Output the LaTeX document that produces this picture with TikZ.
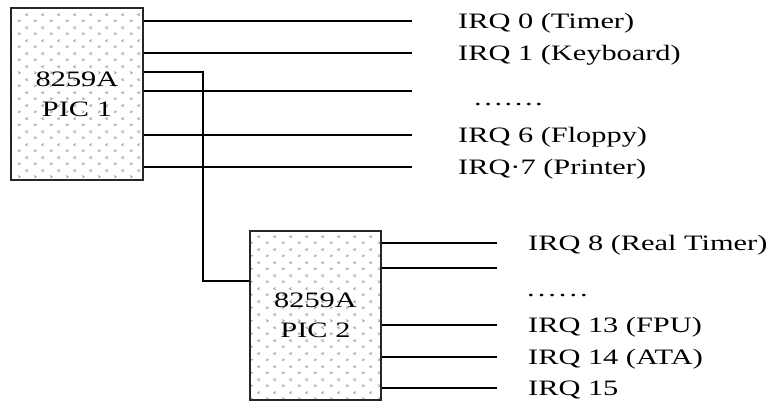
\documentclass[tikz,border=0pt]{standalone}
\usepackage{fontspec}
\setmainfont{Liberation Serif}[FakeStretch=1.38]
\usepackage{tikz}
\usetikzlibrary{positioning, patterns.meta}

\tikzdeclarepattern{
  name=chevrons,
  type=uncolored,
  bottom left={(0pt,0pt)},
  top right={(15.5pt,13pt)},
  tile size={(15.5pt,13pt)},
  code={
    \draw[line width=0.7pt] (2pt,2.2pt) -- (4.5pt,3.5pt) -- (2pt,4.8pt);
    \draw[line width=0.7pt] (12.3pt,8.7pt) -- (9.8pt,10pt) -- (12.3pt,11.3pt);
  }
}

\begin{document}
\begin{tikzpicture}[
    x=1pt, y=-1pt,
    font=\fontsize{22}{30}\selectfont,
    pic/.style={rectangle, draw=black!85, line width=1.6pt, pattern=chevrons, pattern color=gray!75, inner sep=0pt, align=center},
    wire/.style={line width=1.3pt, black},
    irq/.style={inner sep=0pt, text height=14.6pt, text depth=0pt},
    dotrow/.style={inner sep=0pt, anchor=base west}
]
\useasboundingbox (0,0) rectangle (783,401);

% Nodes
\node[pic, minimum width=132pt, minimum height=172pt] (pic1) at (77,94) {8259A\\PIC 1};
\node[pic, minimum width=131pt, minimum height=169pt] (pic2) at (315.5,315.5) {8259A\\PIC 2};

\foreach \y [count=\i] in {21,53,91,135,167}
  \coordinate (a\i) at (412,\y);
\foreach \y [count=\i] in {243,268,325,357,388}
  \coordinate (b\i) at (497,\y);
\coordinate (cas1) at (203,72);
\coordinate (cas2) at (203,281);

\node[irq, right=46pt of a1] (irq0) {IRQ 0 (Timer)};
\node[irq, right=46pt of a2] (irq1) {IRQ 1 (Keyboard)};
\node[dotrow] (gap1) at (474,106) {.\kern2.58pt.\kern2.58pt.\kern2.58pt.\kern2.58pt.\kern2.58pt.\kern2.58pt.};
\node[irq, right=46pt of a4] (irq6) {IRQ 6 (Floppy)};
\node[irq, right=46pt of a5] (irq7) {IRQ·7 (Printer)};

\node[irq, right=31pt of b1] (irq8) {IRQ 8 (Real Timer)};
\node[dotrow] (gap2) at (527,296) {.\kern3pt.\kern3pt.\kern3pt.\kern3pt.\kern3pt.};
\node[irq, right=31pt of b3] (irq13) {IRQ 13 (FPU)};
\node[irq, right=31pt of b4] (irq14) {IRQ 14 (ATA)};
\node[irq, right=31pt of b5] (irq15) {IRQ 15};

% Paths
\foreach \i in {1,...,5}
  \draw[wire] (pic1.east|-a\i) -- (a\i);
\foreach \i in {1,...,5}
  \draw[wire] (pic2.east|-b\i) -- (b\i);
\draw[wire] (pic1.east|-cas1) -- (cas1) -- (cas2) -- (pic2.west|-cas2);
\end{tikzpicture}
\end{document}
